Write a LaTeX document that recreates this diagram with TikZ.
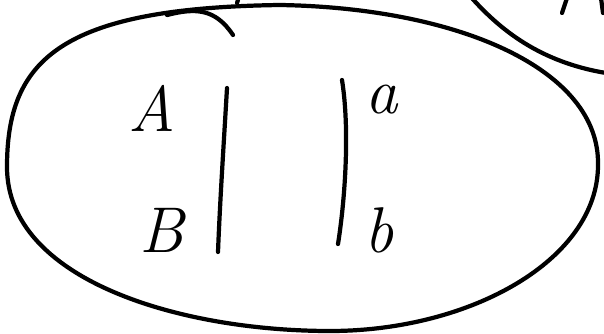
\documentclass[tikz,border=0pt]{standalone}
\usepackage{tikz}
\usetikzlibrary{calc, positioning}

\begin{document}
\begin{tikzpicture}[x=0.025cm, y=-0.025cm, line cap=round, line join=round,
    stroke/.style={line width=3pt},
    letter/.style={inner sep=0pt, font=\fontsize{46}{50}\selectfont\itshape}]

    % =================================================================
    % 1. KHUNG ẢNH
    % =================================================================
    \useasboundingbox (0,0) rectangle (604,334);
    \clip (0,0) rectangle (604,334);

    % =================================================================
    % 2. ĐƯỜNG CONG LỚN BAO QUANH
    % =================================================================
    \draw[stroke] (7,167) .. controls (7,60) and (60,8) .. (280,5)
                  .. controls (460,8) and (600,70) .. (598,165)
                  .. controls (598,260) and (470,331) .. (330,331)
                  .. controls (180,331) and (7,280) .. cycle;

    % Nét móc phía trên
    \draw[stroke] (167,15) .. controls (195,8) and (215,8) .. (233,35);
    \draw[stroke] (238,0) -- (237,3);

    % Đường cong thứ hai ở góc trên bên phải
    \draw[stroke] (470,-4) .. controls (500,30) and (540,62) .. (606,73);
    \draw[stroke] (567,-2) -- (562,13);
    \draw[stroke] (601,-2) -- (603,13);

    % =================================================================
    % 3. HAI VẠCH DỌC
    % =================================================================
    \coordinate (L1) at (227,88);
    \coordinate (L3) at (218,252);
    \coordinate (R1) at (342,80);
    \coordinate (R3) at (338,244);
    \draw[stroke] (L1) .. controls (224,140) and (220,200) .. (L3);
    \draw[stroke] (R1) .. controls (350,130) and (345,200) .. (R3);

    % =================================================================
    % 4. NHÃN
    % =================================================================
    \node[letter] (A) at (152,108) {A};
    \node[letter] (B) at (162,230) {B};
    \node[letter] (a) at (382,100) {a};
    \node[letter] (b) at (379,230) {b};

\end{tikzpicture}
\end{document}
